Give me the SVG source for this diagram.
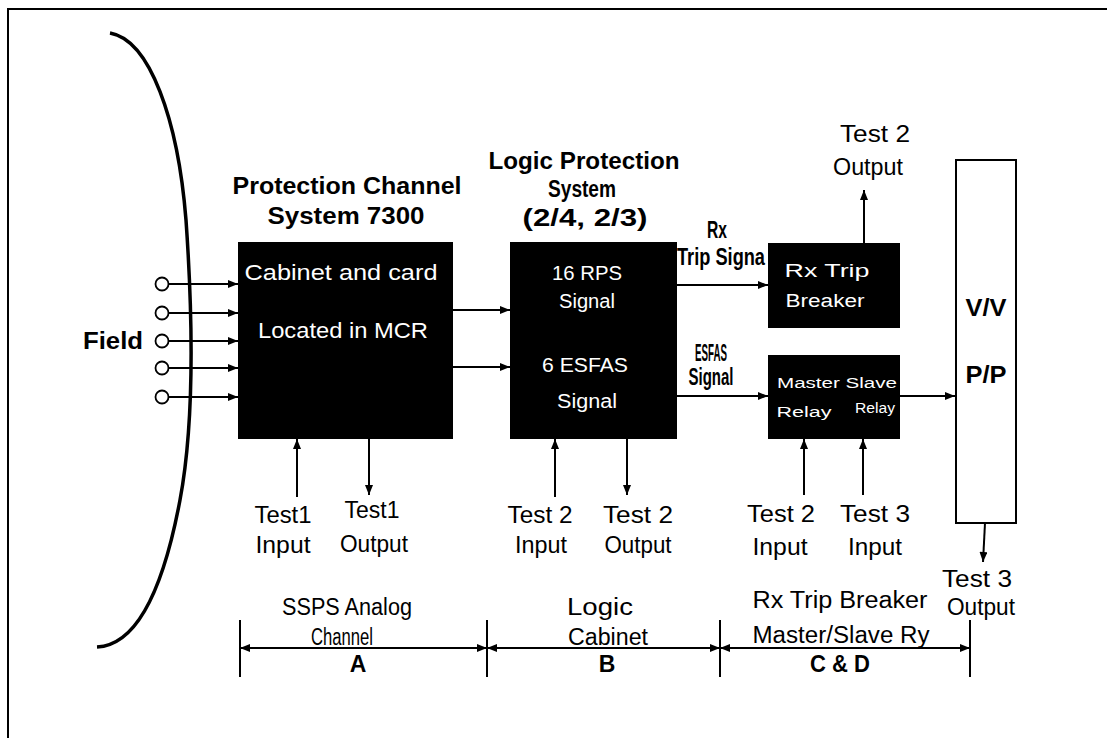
<svg xmlns="http://www.w3.org/2000/svg" width="1107" height="738" viewBox="0 0 1107 738">
<style>
.t{font-family:"Liberation Sans",Arial,sans-serif;font-size:23px;fill:#000;text-anchor:middle}
.b{font-weight:bold}
.w{font-family:"Liberation Sans",Arial,sans-serif;fill:#fff;text-anchor:middle}
.ln{stroke:#000;stroke-width:2;fill:none}
.box{fill:#000}
</style>
<defs>
<marker id="ah" viewBox="0 0 10 8" refX="10" refY="4" markerWidth="11" markerHeight="8" markerUnits="userSpaceOnUse" orient="auto-start-reverse">
<path d="M0,0 L10,4 L0,8 Z" fill="#000"/>
</marker>
</defs>
<rect width="1107" height="738" fill="#fff"/>
<g id="frame">
<path d="M8,738 L8,9 L1107,9" fill="none" stroke="#000" stroke-width="2"/>
<path d="M110,33 C150,40 178,120 186,220 C193,320 195,420 180,500 C165,580 140,645 97,647" fill="none" stroke="#000" stroke-width="3.5"/>
</g>
<g id="field">
<circle cx="162" cy="284" r="6.5" fill="#fff" stroke="#000" stroke-width="1.8"/>
<circle cx="162" cy="313" r="6.5" fill="#fff" stroke="#000" stroke-width="1.8"/>
<circle cx="162" cy="341" r="6.5" fill="#fff" stroke="#000" stroke-width="1.8"/>
<circle cx="162" cy="368" r="6.5" fill="#fff" stroke="#000" stroke-width="1.8"/>
<circle cx="162" cy="397" r="6.5" fill="#fff" stroke="#000" stroke-width="1.8"/>
<text class="t b" x="113" y="349" textLength="60" lengthAdjust="spacingAndGlyphs">Field</text>
</g>
<g id="connectors" class="ln">
<line x1="169" y1="284" x2="238" y2="284" marker-end="url(#ah)"/>
<line x1="169" y1="313" x2="238" y2="313" marker-end="url(#ah)"/>
<line x1="169" y1="341" x2="238" y2="341" marker-end="url(#ah)"/>
<line x1="169" y1="368" x2="238" y2="368" marker-end="url(#ah)"/>
<line x1="169" y1="397" x2="238" y2="397" marker-end="url(#ah)"/>
<line x1="453" y1="310" x2="510" y2="310" marker-end="url(#ah)"/>
<line x1="453" y1="367" x2="510" y2="367" marker-end="url(#ah)"/>
<line x1="677" y1="285" x2="768" y2="285" marker-end="url(#ah)"/>
<line x1="677" y1="396" x2="768" y2="396" marker-end="url(#ah)"/>
<line x1="900" y1="396" x2="955" y2="396" marker-end="url(#ah)"/>
<line x1="864" y1="243" x2="864" y2="190" marker-end="url(#ah)"/>
<line x1="297" y1="497" x2="297" y2="439" marker-end="url(#ah)"/>
<line x1="369" y1="439" x2="369" y2="495" marker-end="url(#ah)"/>
<line x1="555" y1="497" x2="555" y2="439" marker-end="url(#ah)"/>
<line x1="627" y1="439" x2="627" y2="495" marker-end="url(#ah)"/>
<line x1="804" y1="495" x2="804" y2="439" marker-end="url(#ah)"/>
<line x1="863" y1="495" x2="863" y2="439" marker-end="url(#ah)"/>
<line x1="985" y1="523" x2="983" y2="562" marker-end="url(#ah)"/>
<line x1="240" y1="648" x2="487" y2="648" marker-start="url(#ah)" marker-end="url(#ah)"/>
<line x1="487" y1="648" x2="720" y2="648" marker-start="url(#ah)" marker-end="url(#ah)"/>
<line x1="720" y1="648" x2="970" y2="648" marker-start="url(#ah)" marker-end="url(#ah)"/>
<line x1="240" y1="620" x2="240" y2="677"/>
<line x1="487" y1="620" x2="487" y2="677"/>
<line x1="720" y1="620" x2="720" y2="677"/>
<line x1="970" y1="620" x2="970" y2="677"/>
</g>
<g id="protection-channel">
<text class="t b" x="347" y="194" textLength="229" lengthAdjust="spacingAndGlyphs">Protection Channel</text>
<text class="t b" x="346" y="224" textLength="157" lengthAdjust="spacingAndGlyphs">System 7300</text>
<rect class="box" x="238" y="242" width="215" height="197"/>
<text class="w" x="341" y="280" font-size="22" textLength="193" lengthAdjust="spacingAndGlyphs">Cabinet and card</text>
<text class="w" x="343" y="338" font-size="22" textLength="170" lengthAdjust="spacingAndGlyphs">Located in MCR</text>
</g>
<g id="logic-protection">
<text class="t b" x="584" y="169" textLength="191" lengthAdjust="spacingAndGlyphs">Logic Protection</text>
<text class="t b" x="582" y="197" textLength="68" lengthAdjust="spacingAndGlyphs">System</text>
<text class="t b" x="585" y="226" textLength="125" lengthAdjust="spacingAndGlyphs">(2/4, 2/3)</text>
<rect class="box" x="510" y="242" width="167" height="197"/>
<text class="w" x="587" y="280" font-size="20" textLength="70" lengthAdjust="spacingAndGlyphs">16 RPS</text>
<text class="w" x="587" y="308" font-size="20" textLength="56" lengthAdjust="spacingAndGlyphs">Signal</text>
<text class="w" x="585" y="372" font-size="20" textLength="86" lengthAdjust="spacingAndGlyphs">6 ESFAS</text>
<text class="w" x="587" y="408" font-size="20" textLength="60" lengthAdjust="spacingAndGlyphs">Signal</text>
</g>
<g id="rx-trip-breaker">
<text class="t b" x="717" y="238" font-size="14" textLength="20" lengthAdjust="spacingAndGlyphs">Rx</text>
<text class="t b" x="721" y="265" font-size="16" textLength="88" lengthAdjust="spacingAndGlyphs">Trip Signa</text>
<rect class="box" x="768" y="243" width="132" height="85"/>
<text class="w" x="827" y="277" font-size="18" textLength="85" lengthAdjust="spacingAndGlyphs">Rx Trip</text>
<text class="w" x="825" y="307" font-size="18" textLength="79" lengthAdjust="spacingAndGlyphs">Breaker</text>
<text class="t" x="875" y="142" textLength="70" lengthAdjust="spacingAndGlyphs">Test 2</text>
<text class="t" x="868" y="175" textLength="70" lengthAdjust="spacingAndGlyphs">Output</text>
</g>
<g id="master-slave-relay">
<text class="t b" x="711" y="361" font-size="13" textLength="32" lengthAdjust="spacingAndGlyphs">ESFAS</text>
<text class="t b" x="711" y="385" font-size="14" textLength="45" lengthAdjust="spacingAndGlyphs">Signal</text>
<rect class="box" x="768" y="355" width="132" height="84"/>
<text class="w" x="837" y="388" font-size="14" textLength="120" lengthAdjust="spacingAndGlyphs">Master Slave</text>
<text class="w" x="804" y="417" font-size="14" textLength="55" lengthAdjust="spacingAndGlyphs">Relay</text>
<text class="w" x="875" y="413" font-size="14" textLength="40" lengthAdjust="spacingAndGlyphs">Relay</text>
</g>
<g id="vv-pp">
<rect x="956" y="160" width="60" height="363" fill="#fff" stroke="#000" stroke-width="2"/>
<text class="t b" x="986" y="316" font-size="22" textLength="41" lengthAdjust="spacingAndGlyphs">V/V</text>
<text class="t b" x="986" y="383" font-size="22" textLength="41" lengthAdjust="spacingAndGlyphs">P/P</text>
</g>
<g id="test-labels">
<text class="t" x="283" y="523" textLength="57" lengthAdjust="spacingAndGlyphs">Test1</text>
<text class="t" x="283" y="553" textLength="55" lengthAdjust="spacingAndGlyphs">Input</text>
<text class="t" x="372" y="518" textLength="55" lengthAdjust="spacingAndGlyphs">Test1</text>
<text class="t" x="374" y="552" textLength="68" lengthAdjust="spacingAndGlyphs">Output</text>
<text class="t" x="540" y="523" textLength="65" lengthAdjust="spacingAndGlyphs">Test 2</text>
<text class="t" x="541" y="553" textLength="52" lengthAdjust="spacingAndGlyphs">Input</text>
<text class="t" x="638" y="523" textLength="70" lengthAdjust="spacingAndGlyphs">Test 2</text>
<text class="t" x="638" y="553" textLength="67" lengthAdjust="spacingAndGlyphs">Output</text>
<text class="t" x="781" y="522" textLength="68" lengthAdjust="spacingAndGlyphs">Test 2</text>
<text class="t" x="780" y="555" textLength="55" lengthAdjust="spacingAndGlyphs">Input</text>
<text class="t" x="875" y="522" textLength="70" lengthAdjust="spacingAndGlyphs">Test 3</text>
<text class="t" x="875" y="555" textLength="54" lengthAdjust="spacingAndGlyphs">Input</text>
<text class="t" x="977" y="587" textLength="70" lengthAdjust="spacingAndGlyphs">Test 3</text>
<text class="t" x="981" y="615" textLength="68" lengthAdjust="spacingAndGlyphs">Output</text>
</g>
<g id="sections">
<text class="t" x="347" y="615" textLength="130" lengthAdjust="spacingAndGlyphs">SSPS Analog</text>
<text class="t" x="342" y="645" textLength="62" lengthAdjust="spacingAndGlyphs">Channel</text>
<text class="t b" x="358" y="672" font-size="22">A</text>
<text class="t" x="600" y="615" textLength="66" lengthAdjust="spacingAndGlyphs">Logic</text>
<text class="t" x="608" y="645" textLength="80" lengthAdjust="spacingAndGlyphs">Cabinet</text>
<text class="t b" x="607" y="672" font-size="22">B</text>
<text class="t" x="840" y="608" textLength="175" lengthAdjust="spacingAndGlyphs">Rx Trip Breaker</text>
<text class="t" x="841" y="643" textLength="177" lengthAdjust="spacingAndGlyphs">Master/Slave Ry</text>
<text class="t b" x="840" y="672" font-size="22" textLength="60" lengthAdjust="spacingAndGlyphs">C &amp; D</text>
</g>
</svg>
